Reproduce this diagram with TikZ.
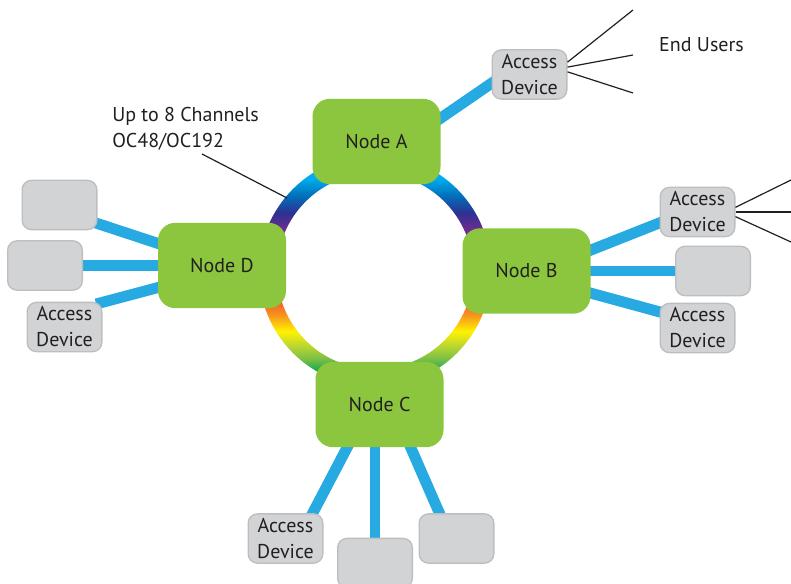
\documentclass[tikz,border=0pt]{standalone}
\usepackage{fontspec}
\setmainfont{PT Sans}
\usetikzlibrary{backgrounds}

\definecolor{nodegreen}{RGB}{140,198,63}
\definecolor{devgray}{RGB}{209,211,212}
\definecolor{devedge}{RGB}{188,190,192}
\definecolor{linkblue}{RGB}{39,170,225}
\definecolor{txt}{RGB}{35,31,32}
\definecolor{rcyan}{RGB}{0,174,239}
\definecolor{rblue}{RGB}{0,114,188}
\definecolor{rindigo}{RGB}{46,49,146}
\definecolor{rpurple}{RGB}{102,45,145}
\definecolor{rmagenta}{RGB}{158,31,140}
\definecolor{rred}{RGB}{237,28,36}
\definecolor{rorred}{RGB}{241,90,41}
\definecolor{rorange}{RGB}{247,148,29}
\definecolor{ryellow}{RGB}{255,242,0}
\definecolor{rygreen}{RGB}{190,215,48}
\definecolor{rlgreen}{RGB}{120,190,70}
\definecolor{rgreen}{RGB}{0,166,81}

\pgfdeclareverticalshading{ringshade}{100bp}{color(0bp)=(rgreen); color(28bp)=(rgreen);
  color(31bp)=(rlgreen); color(34bp)=(rygreen); color(37bp)=(ryellow); color(40.5bp)=(rorange);
  color(43.75bp)=(rorred); color(49bp)=(rred); color(55.5bp)=(rmagenta); color(59.3bp)=(rpurple);
  color(62.5bp)=(rindigo); color(66.4bp)=(rblue); color(70bp)=(rcyan); color(100bp)=(rcyan)}

\begin{document}
\begin{tikzpicture}[x=0.75pt,y=-0.75pt,
  font=\fontsize{15}{19.5}\selectfont, text=txt,
  ringnode/.style={fill=nodegreen, rounded corners=13pt, minimum width=96pt, minimum height=64pt, inner sep=0pt},
  accdev/.style={draw=devedge, line width=1pt, fill=devgray, rounded corners=7pt, minimum width=56pt, minimum height=37pt, inner sep=0pt, align=center},
  link/.style={draw=linkblue, line width=8.2pt, shorten <=-5pt, shorten >=-5pt},
  userline/.style={draw=txt, line width=0.9pt}]
\useasboundingbox (0,0) rectangle (791,584);

\coordinate (ring) at (375,271);
\shade[shading=ringshade] (ring) circle (116);
\fill[white] (ring) circle (98);

\node[ringnode] (nodeA) at (376.5,141.5) {Node A};
\node[ringnode] (nodeB) at (526.5,271) {Node B};
\node[ringnode] (nodeC) at (379.5,404.5) {Node C};
\node[ringnode] (nodeD) at (222,265.5) {Node D};

\node[accdev] (devA) at (529.5,74.5) {Access\\Device};
\node[accdev] (devB1) at (697.5,212) {Access\\Device};
\node[accdev] (devB2) at (713,271) {};
\node[accdev] (devB3) at (697.5,328) {Access\\Device};
\node[accdev] (devD1) at (59.5,205) {};
\node[accdev] (devD2) at (45,265.5) {};
\node[accdev] (devD3) at (64.5,327) {Access\\Device};
\node[accdev] (devC1) at (285.5,538.5) {Access\\Device};
\node[accdev] (devC2) at (375,563) {};
\node[accdev] (devC3) at (456.5,538.5) {};

\begin{pgfonlayer}{background}
\draw[link] (nodeA.20) -- (devA.193);
\draw[link] (nodeB.18) -- (devB1.196);
\draw[link] (nodeB.east) -- (devB2.west);
\draw[link] (nodeB.-19) -- (devB3.157);
\draw[link] (nodeD.161) -- (devD1.-26);
\draw[link] (nodeD.west) -- (devD2.east);
\draw[link] (nodeD.199) -- (devD3.33);
\draw[link] (nodeC.233) -- (devC1.43);
\draw[link] (devC2.north |- nodeC.south) -- (devC2.north);
\draw[link] (nodeC.-54) -- (devC3.124);
\end{pgfonlayer}

\node (endusers) at (701.5,45) {End Users};
\coordinate (uA1) at (633,10);
\coordinate (uA2) at (633,55);
\coordinate (uA3) at (633,93);
\draw[userline] (devA.18) -- (uA1);
\draw[userline] (devA.11) -- (uA2);
\draw[userline] (devA.4) -- (uA3);

\coordinate (uB1) at (791,180);
\coordinate (uB2) at (791,212);
\coordinate (uB3) at (791,242);
\draw[userline] (devB1.7) -- (uB1);
\draw[userline] (devB1.east) -- (uB2);
\draw[userline] (devB1.-7) -- (uB3);

\node[align=left, anchor=north west, inner sep=0pt] (chlabel) at (112,107) {Up to 8 Channels\\OC48/OC192};
\coordinate (chfoot) at (202,154);
\coordinate (chtip) at (287,198);
\draw[userline] (chfoot) -- (chtip);
\end{tikzpicture}
\end{document}
